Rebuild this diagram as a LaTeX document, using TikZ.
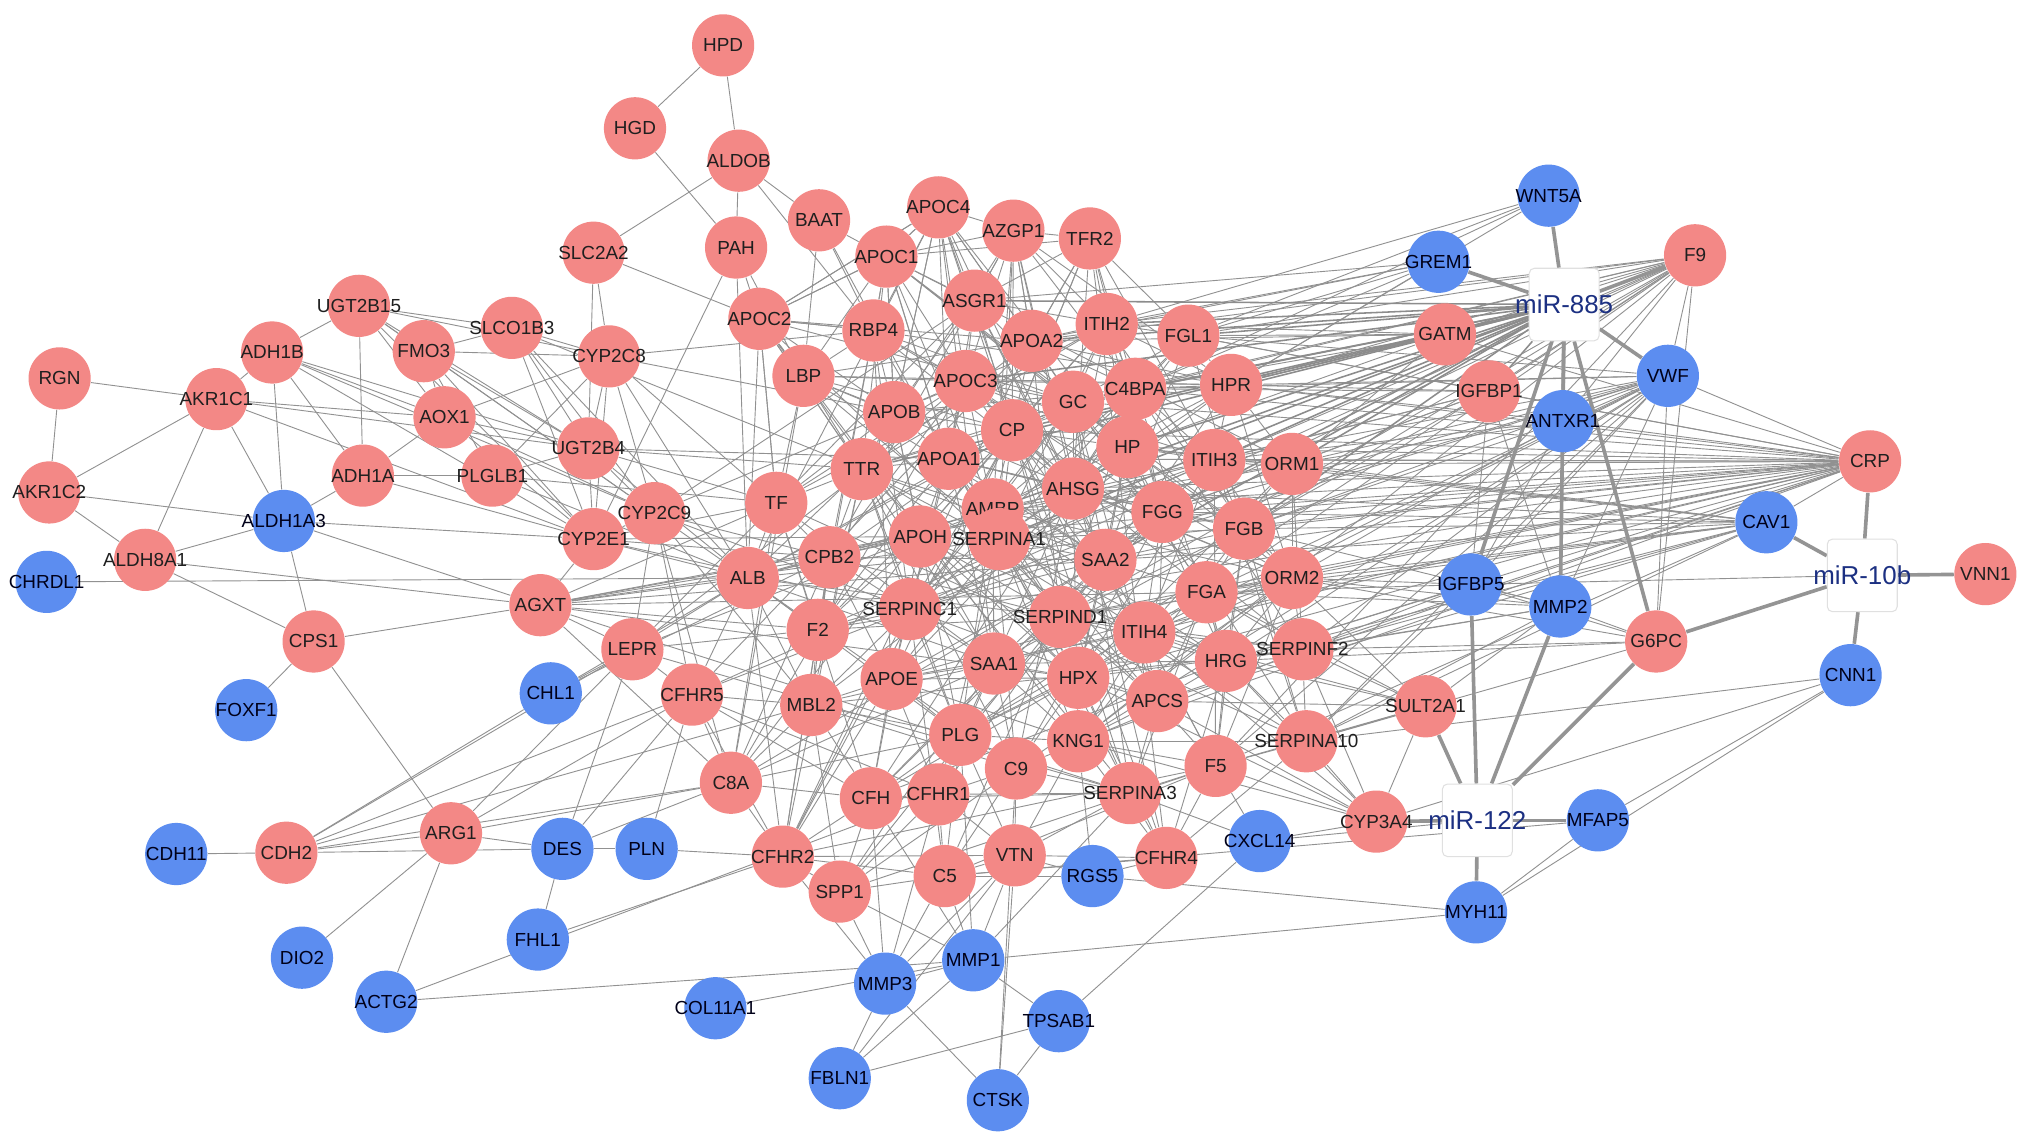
\documentclass[tikz,border=0pt]{standalone}
\usepackage{fontspec}
\setmainfont{Liberation Sans}
\pgfdeclarelayer{back}
\pgfdeclarelayer{bg}
\pgfsetlayers{back,bg,main}
\definecolor{pinkc}{RGB}{243,136,134}
\definecolor{bluec}{RGB}{92,141,240}
\definecolor{mirtxt}{RGB}{28,48,130}
\definecolor{edgec}{RGB}{145,145,145}
\tikzset{
  gnode/.style={circle, minimum size=24pt, inner sep=0pt, font=\fontsize{7.3}{8}\selectfont, text=black!88},
  pk/.style={gnode, fill=pinkc},
  bl/.style={gnode, fill=bluec, text=black!90!blue},
  mirbox/.style={rectangle, rounded corners=2pt, draw=black!12, fill=white, minimum width=27pt, minimum height=28pt, inner sep=0pt, font=\fontsize{10}{12}\selectfont, text=mirtxt},
  edge/.style={draw=edgec, line width=0.35pt},
  medge/.style={draw=black!45, line width=0.6pt},
  tedge/.style={draw=black!42, line width=1.4pt}
}
\newcommand\gn[3]{\node[#1] (#2) at (#3) {\makebox[0pt]{#2}};}
\begin{document}
\begin{tikzpicture}[x=0.5pt,y=-0.5pt]
\useasboundingbox (0,0) rectangle (1568,883);
\begin{pgfonlayer}{back}
\fill[white] (0,0) rectangle (1568,883);
\end{pgfonlayer}
% ---- nodes ----
\gn{pk}{HPD}{558,35}
\gn{pk}{HGD}{490,99}
\gn{pk}{ALDOB}{570,124}
\gn{pk}{BAAT}{632,170}
\gn{pk}{APOC4}{724,160}
\gn{pk}{AZGP1}{782,178}
\gn{pk}{TFR2}{841,184}
\gn{pk}{PAH}{568,191}
\gn{pk}{SLC2A2}{458,195}
\gn{pk}{APOC1}{684,198}
\gn{pk}{ASGR1}{752,232}
\gn{pk}{APOC2}{586,246}
\gn{pk}{RBP4}{674,255}
\gn{pk}{APOA2}{796,263}
\gn{pk}{ITIH2}{854,250}
\gn{pk}{FGL1}{917,259}
\gn{pk}{UGT2B15}{277,236}
\gn{pk}{SLCO1B3}{395,253}
\gn{pk}{CYP2C8}{470,275}
\gn{pk}{FMO3}{327,271}
\gn{pk}{ADH1B}{210,272}
\gn{pk}{RGN}{46,292}
\gn{pk}{AKR1C1}{167,308}
\gn{pk}{AOX1}{343,322}
\gn{pk}{LBP}{620,290}
\gn{pk}{APOC3}{745,294}
\gn{pk}{C4BPA}{876,300}
\gn{pk}{HPR}{950,297}
\gn{pk}{GC}{828,310}
\gn{pk}{APOB}{690,318}
\gn{pk}{CP}{781,332}
\gn{pk}{UGT2B4}{454,346}
\gn{pk}{ADH1A}{280,367}
\gn{pk}{PLGLB1}{380,367}
\gn{pk}{HP}{870,345}
\gn{pk}{ITIH3}{937,355}
\gn{pk}{ORM1}{997,358}
\gn{pk}{TTR}{665,362}
\gn{pk}{APOA1}{732,354}
\gn{pk}{AHSG}{828,377}
\gn{pk}{AKR1C2}{38,380}
\gn{bl}{ALDH1A3}{219,402}
\gn{pk}{CYP2C9}{505,396}
\gn{pk}{TF}{599,388}
\gn{pk}{AMBP}{766,393}
\gn{pk}{FGG}{897,395}
\gn{pk}{FGB}{960,408}
\gn{pk}{CYP2E1}{458,416}
\gn{pk}{APOH}{710,414}
\gn{pk}{SERPINA1}{771,416}
\gn{pk}{SAA2}{853,432}
\gn{pk}{CPB2}{640,430}
\gn{pk}{ALB}{577,446}
\gn{bl}{CHRDL1}{36,449}
\gn{pk}{ALDH8A1}{112,432}
\gn{pk}{FGA}{931,457}
\gn{pk}{ORM2}{997,446}
\gn{pk}{AGXT}{417,467}
\gn{pk}{SERPINC1}{702,470}
\gn{pk}{SERPIND1}{818,476}
\gn{pk}{ITIH4}{883,488}
\gn{pk}{F2}{631,486}
\gn{pk}{SERPINF2}{1005,501}
\gn{pk}{HRG}{946,510}
\gn{pk}{LEPR}{488,501}
\gn{pk}{CPS1}{242,495}
\gn{pk}{SAA1}{767,512}
\gn{pk}{HPX}{832,523}
\gn{pk}{APCS}{893,541}
\gn{pk}{APOE}{688,524}
\gn{pk}{CFHR5}{534,536}
\gn{pk}{MBL2}{626,544}
\gn{bl}{CHL1}{425,535}
\gn{bl}{FOXF1}{190,548}
\gn{pk}{PLG}{741,567}
\gn{pk}{KNG1}{832,572}
\gn{pk}{SERPINA10}{1008,572}
\gn{pk}{C9}{784,593}
\gn{pk}{F5}{938,591}
\gn{pk}{C8A}{564,604}
\gn{pk}{CFH}{672,616}
\gn{pk}{CFHR1}{724,613}
\gn{pk}{SERPINA3}{872,612}
\gn{pk}{CFHR2}{604,661}
\gn{pk}{SPP1}{648,688}
\gn{pk}{C5}{729,676}
\gn{pk}{VTN}{783,660}
\gn{pk}{CFHR4}{900,662}
\gn{bl}{RGS5}{843,676}
\gn{bl}{CXCL14}{972,649}
\gn{pk}{CYP3A4}{1062,634}
\gn{bl}{CDH11}{136,659}
\gn{pk}{CDH2}{221,658}
\gn{pk}{ARG1}{348,643}
\gn{bl}{DES}{434,655}
\gn{bl}{PLN}{499,655}
\gn{bl}{FHL1}{415,725}
\gn{bl}{DIO2}{233,739}
\gn{bl}{ACTG2}{298,773}
\gn{bl}{COL11A1}{552,778}
\gn{bl}{MMP3}{683,759}
\gn{bl}{MMP1}{751,741}
\gn{bl}{TPSAB1}{817,788}
\gn{bl}{FBLN1}{648,832}
\gn{bl}{CTSK}{770,849}
\gn{bl}{MYH11}{1139,704}
\gn{bl}{MFAP5}{1233,633}
\gn{pk}{SULT2A1}{1100,545}
\gn{pk}{G6PC}{1278,495}
\gn{bl}{MMP2}{1204,468}
\gn{bl}{IGFBP5}{1135,451}
\gn{bl}{CNN1}{1428,521}
\gn{bl}{CAV1}{1363,403}
\gn{pk}{VNN1}{1532,443}
\gn{pk}{CRP}{1443,356}
\gn{bl}{ANTXR1}{1206,325}
\gn{pk}{IGFBP1}{1149,302}
\gn{bl}{VWF}{1287,290}
\gn{pk}{GATM}{1115,258}
\gn{bl}{GREM1}{1110,202}
\gn{bl}{WNT5A}{1195,151}
\gn{pk}{F9}{1308,197}
\node[mirbox] (mir885) at (1207,235) {\makebox[0pt]{miR-885}};
\node[mirbox] (mir10b) at (1437,444) {\makebox[0pt]{miR-10b}};
\node[mirbox] (mir122) at (1140,633) {\makebox[0pt]{miR-122}};
% ---- edges ----
\begin{pgfonlayer}{bg}
\def\clist{APOC2,RBP4,LBP,APOC1,APOC4,ASGR1,AZGP1,TFR2,APOA2,ITIH2,FGL1,APOC3,C4BPA,HPR,GC,APOB,CP,HP,ITIH3,ORM1,TTR,APOA1,AHSG,TF,AMBP,FGG,FGB,APOH,SERPINA1,SAA2,CPB2,ALB,FGA,ORM2,SERPINC1,SERPIND1,ITIH4,F2,SERPINF2,HRG,SAA1,HPX,APCS,APOE,MBL2,PLG,KNG1,SERPINA10,C9,F5,C8A,CFH,CFHR1,SERPINA3,CFHR2,SPP1,C5,VTN,CFHR4,CFHR5,LEPR,CYP2C9,AGXT}
\pgfmathsetseed{4242}
\foreach \a [count=\i] in \clist {
  \foreach \b [count=\j] in \clist {
    \ifnum\j>\i
      \pgfpointdiff{\pgfpointanchor{\a}{center}}{\pgfpointanchor{\b}{center}}%
      \pgfgetlastxy{\dx}{\dy}%
      \pgfmathsetmacro\dd{veclen(\dx,\dy)}%
      \pgfmathsetmacro\rr{rnd}%
      \pgfmathtruncatemacro\ok{or(and(\dd<55,\rr<0.85),or(and(\dd<120,\rr<0.33),\rr<0.05))}%
      \ifnum\ok=1 \draw[edge] (\a) -- (\b); \fi
    \fi
  }
}
% left / top cluster
\foreach \a/\b in {RGN/AKR1C1,RGN/AKR1C2,AKR1C2/AKR1C1,AKR1C2/ALDH8A1,AKR1C2/ALDH1A3,AKR1C1/ADH1B,AKR1C1/ALDH8A1,AKR1C1/ALDH1A3,AKR1C1/AOX1,AKR1C1/UGT2B4,AKR1C1/CYP2E1,
  ADH1B/UGT2B15,ADH1B/ALDH1A3,ADH1B/ADH1A,ADH1B/CYP2E1,ADH1B/AOX1,ADH1B/UGT2B4,ADH1B/CYP2C9,
  UGT2B15/ADH1A,UGT2B15/FMO3,UGT2B15/SLCO1B3,UGT2B15/CYP2C8,UGT2B15/UGT2B4,UGT2B15/CYP2E1,UGT2B15/CYP2C9,UGT2B15/AOX1,
  FMO3/SLCO1B3,FMO3/AOX1,FMO3/CYP2C8,FMO3/UGT2B4,FMO3/CYP2E1,FMO3/CYP2C9,FMO3/PLGLB1,
  SLCO1B3/CYP2C8,SLCO1B3/UGT2B4,SLCO1B3/CYP2E1,SLCO1B3/CYP2C9,SLCO1B3/ALB,SLCO1B3/TTR,
  AOX1/ADH1A,AOX1/CYP2C8,AOX1/UGT2B4,AOX1/CYP2E1,AOX1/CYP2C9,
  ADH1A/ALDH1A3,ADH1A/PLGLB1,ADH1A/CYP2E1,
  PLGLB1/CYP2C8,PLGLB1/UGT2B4,PLGLB1/ALB,PLGLB1/TF,
  ALDH8A1/ALDH1A3,ALDH8A1/CPS1,ALDH8A1/AGXT,CHRDL1/ALB,
  ALDH1A3/CPS1,ALDH1A3/AGXT,ALDH1A3/CYP2E1,
  CPS1/AGXT,CPS1/FOXF1,CPS1/ARG1,
  SLC2A2/CYP2C8,SLC2A2/ALDOB,SLC2A2/APOC2,SLC2A2/UGT2B4,
  CYP2C8/UGT2B4,CYP2C8/CYP2E1,CYP2C8/CYP2C9,CYP2C8/ALB,CYP2C8/TF,CYP2C8/APOB,CYP2C8/RBP4,
  UGT2B4/CYP2E1,UGT2B4/CYP2C9,UGT2B4/ALB,UGT2B4/TF,UGT2B4/TTR,UGT2B4/APOA1,
  CYP2E1/CYP2C9,CYP2E1/AGXT,CYP2E1/ALB,CYP2E1/TF,CYP2E1/CPB2,CYP2E1/APOH,CYP2E1/SERPINC1,
  HPD/HGD,HPD/ALDOB,HGD/PAH,ALDOB/PAH,ALDOB/BAAT,ALDOB/RBP4,
  PAH/APOC2,PAH/CYP2E1,PAH/LBP,PAH/ALB,
  BAAT/APOC1,BAAT/LBP,BAAT/RBP4,BAAT/APOA1,
  APOC4/APOC1,APOC4/APOC2,APOC4/APOC3,APOC4/APOB,APOC4/APOA1,APOC4/APOA2,APOC4/CP,
  AZGP1/ASGR1,AZGP1/APOA2,AZGP1/AHSG,TFR2/ASGR1,TFR2/APOA2,TFR2/CP,
  APOC1/APOC2,APOC1/RBP4,APOC1/ASGR1,APOC1/APOB,APOC1/APOA1,APOC1/APOC3,
  APOC2/RBP4,APOC2/LBP,APOC2/APOB,APOC2/TF,APOC2/TTR,
  AGXT/ALB,AGXT/TF,AGXT/CPB2,AGXT/F2,AGXT/APOH,AGXT/SERPINA1,AGXT/SAA2,AGXT/FGA,AGXT/LEPR}
  \draw[edge] (\a) -- (\b);
% bottom
\foreach \a/\b in {CDH11/CDH2,CDH2/ARG1,CDH2/DES,CDH2/CHL1,CDH2/LEPR,CDH2/C8A,CDH2/CFHR5,CDH2/MBL2,
  ARG1/DIO2,ARG1/ACTG2,ARG1/DES,ARG1/LEPR,ARG1/CFHR5,ARG1/C8A,
  DES/PLN,DES/FHL1,DES/CFHR5,DES/C8A,DES/LEPR,
  PLN/CFHR2,PLN/CFHR5,FHL1/CFHR2,
  ACTG2/CFHR1,ACTG2/MMP1,COL11A1/MMP1,
  CHL1/LEPR,CHL1/ALB,CHL1/CPB2,
  MMP3/MMP1,MMP3/FBLN1,MMP3/CTSK,MMP3/SPP1,MMP3/CFH,MMP3/C5,MMP3/VTN,MMP3/CFHR2,MMP3/CFHR1,
  MMP1/TPSAB1,MMP1/SPP1,MMP1/MYH11,MMP1/VTN,MMP1/C5,MMP1/SERPINA3,MMP1/PLG,MMP1/CFH,
  TPSAB1/CTSK,TPSAB1/FBLN1,TPSAB1/CXCL14,FBLN1/MMP1,FBLN1/VTN,CTSK/VTN,CTSK/C9,
  RGS5/MYH11,RGS5/VTN,RGS5/CFHR4,RGS5/C5,RGS5/KNG1,
  CXCL14/CYP3A4,CXCL14/mir122,CXCL14/SERPINA3,CXCL14/F5,
  CYP3A4/F5,CYP3A4/SERPINA10,CYP3A4/KNG1,CYP3A4/HRG,CYP3A4/ITIH4,CYP3A4/APCS,CYP3A4/SERPINF2,CYP3A4/SULT2A1,CYP3A4/HPX,
  MYH11/MFAP5,MYH11/CNN1,MFAP5/CNN1,MFAP5/C5,CNN1/CYP3A4,CNN1/SERPINA10,
  SULT2A1/SERPINF2,SULT2A1/SERPINA10,SULT2A1/F5,SULT2A1/APCS,SULT2A1/HRG,SULT2A1/ITIH4,SULT2A1/ORM2,SULT2A1/FGA}
  \draw[edge] (\a) -- (\b);
% right hubs
\foreach \t in {FGL1,HPR,ORM1,ITIH3,FGB,ORM2,SERPINF2,FGG,HP,C4BPA,SAA2,FGA,HRG,APCS,SAA1,ALB,APOA1,AHSG,SERPINA1,ITIH4,HPX,F2,KNG1,GATM,IGFBP1,ANTXR1,CP,GC,APOH,AMBP,SERPIND1,VWF}
  \draw[edge] (CRP) -- (\t);
\foreach \t in {FGL1,ITIH2,C4BPA,HPR,FGA,FGG,FGB,F2,SERPINC1,KNG1,PLG,F5,SERPIND1,GATM,IGFBP1,ANTXR1,G6PC,VWF,APOA2,GC}
  \draw[edge] (F9) -- (\t);
\foreach \t in {FGL1,HPR,ITIH3,FGG,FGB,FGA,F2,SERPINC1,PLG,KNG1,F5,SERPINF2,SERPINA10,C4BPA,ORM1,MMP2,G6PC,ANTXR1,IGFBP5,HRG,ITIH4}
  \draw[edge] (VWF) -- (\t);
\foreach \t in {ORM1,ITIH3,FGB,ORM2,SERPINF2,HRG,FGA,SAA2,HP,FGG,AHSG,SERPIND1,APCS,SERPINA10,F5,CRP}
  \draw[edge] (CAV1) -- (\t);
\foreach \a/\b in {GATM/FGL1,GATM/ITIH2,GATM/HPR,GATM/APOA2,GATM/C4BPA,GATM/ORM1,GATM/HP,
  IGFBP1/FGL1,IGFBP1/HPR,IGFBP1/ITIH3,IGFBP1/ORM1,IGFBP1/FGB,IGFBP1/ALB,IGFBP1/FGG,IGFBP1/C4BPA,IGFBP1/IGFBP5,IGFBP1/MMP2,
  ANTXR1/HPR,ANTXR1/ORM1,ANTXR1/ITIH3,ANTXR1/FGB,ANTXR1/ORM2,ANTXR1/MMP2,ANTXR1/IGFBP5,
  GREM1/ITIH2,GREM1/FGL1,GREM1/APOA2,GREM1/HPR,GREM1/C4BPA,GREM1/ASGR1,
  WNT5A/FGL1,WNT5A/ITIH2,WNT5A/HPR,WNT5A/C4BPA,
  IGFBP5/SERPINF2,IGFBP5/HRG,IGFBP5/ORM2,IGFBP5/FGA,IGFBP5/SERPINA10,IGFBP5/MMP2,IGFBP5/G6PC,IGFBP5/mir10b,
  MMP2/SERPINF2,MMP2/HRG,MMP2/FGA,MMP2/ORM2,MMP2/FGB,MMP2/G6PC,MMP2/SERPINA10,MMP2/SULT2A1,
  G6PC/SERPINF2,G6PC/SERPINA10,G6PC/ORM2,G6PC/HRG}
  \draw[edge] (\a) -- (\b);
\foreach \t in {FGL1,ITIH2,APOA2,C4BPA,HPR,HP,ITIH3,ORM1,CP,GC,APOC3,ASGR1,AHSG,FGB,FGG,SAA2,APOA1,AMBP,TTR,SERPINA1,GATM,IGFBP1}
  \draw[medge] (mir885) -- (\t);
% miRNA thick edges
\foreach \t in {WNT5A,GREM1,VWF,F9,ANTXR1,IGFBP5,MMP2,G6PC}
  \draw[tedge] (mir885) -- (\t);
\foreach \t in {CYP3A4,MFAP5,MYH11,SULT2A1,IGFBP5,MMP2,G6PC}
  \draw[tedge] (mir122) -- (\t);
\foreach \t in {CNN1,VNN1,CRP,CAV1,G6PC}
  \draw[tedge] (mir10b) -- (\t);
\end{pgfonlayer}
\end{tikzpicture}
\end{document}
